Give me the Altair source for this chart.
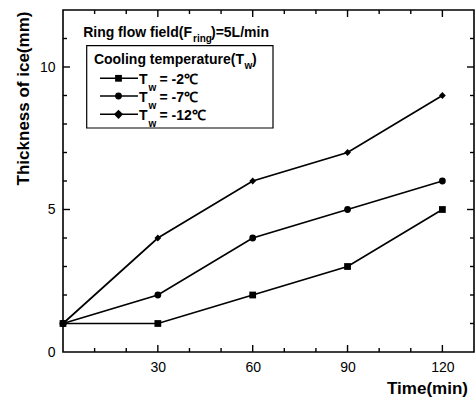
import altair as alt
import pandas as pd

# ---- data ----
times = [0, 30, 60, 90, 120]
series_names = ["Tw = -2℃", "Tw = -7℃", "Tw = -12℃"]
thick_m2 = [1, 1, 2, 3, 5]
thick_m7 = [1, 2, 4, 5, 6]
thick_m12 = [1, 4, 6, 7, 9]

x_major = [30, 60, 90, 120]
x_minor = [10, 20, 40, 50, 70, 80, 100, 110]
y_major = [5, 10]
y_minor = [1, 2, 3, 4, 6, 7, 8, 9, 11]
y_labels = [0, 5, 10]

rows = []
for name, vals in zip(series_names, [thick_m2, thick_m7, thick_m12]):
    for t, v in zip(times, vals):
        rows.append({"time": t, "thick": v, "series": name})
df = pd.DataFrame(rows)

W, H = 411, 342
FB = "Liberation Sans, Arial, sans-serif"
FR = "Liberation Sans, Arial, sans-serif"
TS = 14     # annotation text size
SS = 10     # subscript size

xs = alt.Scale(domain=[0, 130], nice=False, zero=False)
ys = alt.Scale(domain=[0, 12], nice=False, zero=False)

xaxis = alt.Axis(values=x_major, title="Time(min)", grid=False, ticks=False, tickSize=0,
                 domain=False, labelFont=FR, labelFontSize=14, labelColor="black",
                 labelPadding=8, labelFlush=False,
                 titleFont=FB, titleFontSize=17, titleFontWeight="bold", titleColor="black",
                 titleX=364, titleY=36, titleAlign="center", titleBaseline="middle")
yaxis = alt.Axis(values=y_labels, title="Thickness of ice(mm)", grid=False, ticks=False, tickSize=0,
                 domain=False, labelFont=FR, labelFontSize=14, labelColor="black",
                 labelPadding=8, labelFlush=False,
                 titleFont=FB, titleFontSize=17, titleFontWeight="bold", titleColor="black",
                 titleAngle=270, titleX=-40, titleY=88, titleAlign="center", titleBaseline="middle")

shape_scale = alt.Scale(domain=series_names, range=["square", "circle", "diamond"])
size_scale = alt.Scale(domain=series_names, range=[46, 46, 85])

lines = alt.Chart(df).mark_line(color="black", strokeWidth=1.7).encode(
    x=alt.X("time:Q", scale=xs, axis=xaxis),
    y=alt.Y("thick:Q", scale=ys, axis=yaxis),
    detail="series:N",
)
points = alt.Chart(df).mark_point(filled=True, color="black", opacity=1).encode(
    x=alt.X("time:Q", scale=xs, axis=xaxis),
    y=alt.Y("thick:Q", scale=ys, axis=yaxis),
    shape=alt.Shape("series:N", scale=shape_scale, legend=None),
    size=alt.Size("series:N", scale=size_scale, legend=None),
)

def xticks(vals, length, top):
    d = pd.DataFrame({"time": vals})
    y0 = 0 if top else H
    y1 = length if top else H - length
    return alt.Chart(d).mark_rule(color="black", strokeWidth=1.4).encode(
        x=alt.X("time:Q", scale=xs, axis=xaxis), y=alt.value(y0), y2=alt.value(y1))

def yticks(vals, length, right):
    d = pd.DataFrame({"thick": vals})
    x0 = W if right else 0
    x1 = W - length if right else length
    return alt.Chart(d).mark_rule(color="black", strokeWidth=1.4).encode(
        y=alt.Y("thick:Q", scale=ys, axis=yaxis), x=alt.value(x0), x2=alt.value(x1))

ticks = [
    xticks(x_major, 7, False), xticks(x_minor, 4, False),
    xticks(x_major, 7, True), xticks(x_minor, 4, True),
    yticks(y_major, 7, False), yticks(y_minor, 4, False),
    yticks(y_major, 7, True), yticks(y_minor, 4, True),
]

one = alt.Data(values=[{"a": 1}])

def txt(s, x, y, size=TS, align="left", bold=True):
    return alt.Chart(one).mark_text(
        font=FB if bold else FR, fontSize=size, fontWeight="bold" if bold else "normal",
        align=align, baseline="alphabetic", color="black",
    ).encode(x=alt.value(x), y=alt.value(y), text=alt.value(s))

annots = [
    # Ring flow field(F_ring)=5L/min
    txt("Ring flow field(F", 129, 26.5, align="right"),
    txt("ring", 130, 31.5, size=SS),
    txt(")=5L/min", 148, 26.5),
]

legend_box = alt.Chart(one).mark_rect(fill="white", stroke="black", strokeWidth=1.2).encode(
    x=alt.value(23.7), x2=alt.value(210), y=alt.value(35.7), y2=alt.value(118))

legend_parts = [legend_box,
                txt("Cooling temperature(T", 181, 53.5, align="right"),
                txt("w", 181.5, 58.5, size=SS),
                txt(")", 189, 53.5)]

row_y = [68.3, 86.0, 104.3]
shapes = ["square", "circle", "diamond"]
sizes = [46, 46, 85]
labels = ["= -2℃", "= -7℃", "= -12℃"]
for ry, shp, sz, lab in zip(row_y, shapes, sizes, labels):
    legend_parts.append(alt.Chart(one).mark_rule(color="black", strokeWidth=1.6).encode(
        x=alt.value(37), x2=alt.value(75), y=alt.value(ry)))
    legend_parts.append(alt.Chart(one).mark_point(filled=True, color="black", opacity=1,
                                                   shape=shp, size=sz).encode(
        x=alt.value(55.5), y=alt.value(ry)))
    legend_parts.append(txt("T", 76, ry + 6))
    legend_parts.append(txt("w", 85.5, ry + 13, size=SS))
    legend_parts.append(txt(lab, 96.5, ry + 6))

chart = alt.layer(lines, points, *ticks, *annots, *legend_parts).properties(
    width=W, height=H,
    autosize=alt.AutoSizeParams(type="none"),
    padding={"left": 63, "top": 10, "right": 1, "bottom": 49},
    background="white",
).configure_view(stroke="black", strokeWidth=1.6)

chart.save("out.html", embed_options={"renderer": "svg", "actions": False})
